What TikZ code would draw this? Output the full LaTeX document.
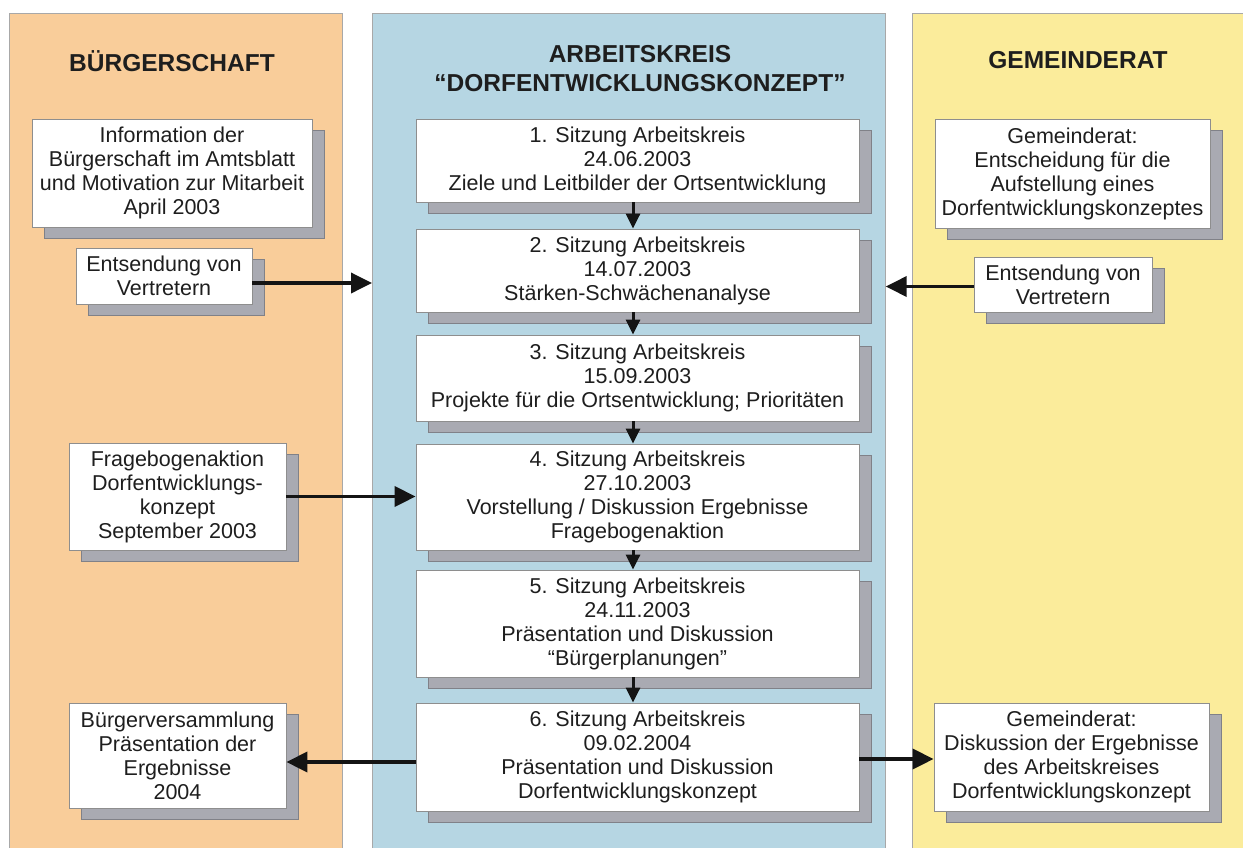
\documentclass[tikz,border=0pt]{standalone}
\usepackage{fontspec}
\setmainfont{Liberation Sans}
\usetikzlibrary{arrows.meta,shadows,calc}
\definecolor{orangep}{HTML}{F9CD9A}
\definecolor{bluep}{HTML}{B6D6E3}
\definecolor{yellowp}{HTML}{FBEC9B}
\definecolor{panelborder}{HTML}{A8A8A8}
\definecolor{boxborder}{HTML}{8E8E8E}
\definecolor{shadowgray}{HTML}{A9AAB2}
\definecolor{shadowborder}{HTML}{808188}
\definecolor{textcol}{HTML}{1E1E1E}
\begin{document}
\begin{tikzpicture}[x=1pt,y=-1pt,
  panel/.style={rectangle, draw=panelborder, line width=0.7pt, inner sep=0pt, anchor=north west},
  box/.style={rectangle, fill=white, draw=boxborder, line width=0.8pt, align=center, inner sep=1pt,
    font=\fontsize{21.5}{24}\selectfont, text=textcol,
    copy shadow={shadow xshift=12pt, shadow yshift=-11pt, fill=shadowgray, draw=shadowborder, opacity=1}},
  heading/.style={font=\bfseries\fontsize{24.5}{29}\selectfont, text=textcol, align=center, inner sep=0pt},
  harrow/.style={line width=3.6pt, draw=black!92, -{Triangle[length=21pt,width=20pt]}},
  varrow/.style={line width=3pt, draw=black!92, -{Triangle[length=15pt,width=14pt]}}
]
\useasboundingbox (0,0) rectangle (1243,847);
\fill[white] (0,0) rectangle (1243,847);
% panels
\node[panel, fill=orangep, minimum width=333pt, minimum height=837pt] (pL) at (9,13) {};
\node[panel, fill=bluep, minimum width=513pt, minimum height=837pt] (pM) at (372,13) {};
\node[panel, fill=yellowp, minimum width=335pt, minimum height=837pt] (pR) at (912,13) {};
% headings
\node[heading, anchor=base] (hL) at (172,71) {BÜRGERSCHAFT};
\node[heading, anchor=north] (hM) at (640,45) {ARBEITSKREIS\\``DORFENTWICKLUNGSKONZEPT''};
\node[heading, anchor=base] (hR) at (1078,68) {GEMEINDERAT};
% left column
\node[box, minimum width=280pt, minimum height=108pt] (info) at (172,173) {Information der\\Bürgerschaft im Amtsblatt\\und Motivation zur Mitarbeit\\April 2003};
\node[box, minimum width=176pt, minimum height=56pt] (entsL) at (164,276) {Entsendung von\\Vertretern};
\node[box, minimum width=217pt, minimum height=107pt] (frage) at (177.5,496.5) {Fragebogenaktion\\Dorfentwicklungs-\\konzept\\September 2003};
\node[box, minimum width=217pt, minimum height=105pt] (buerger) at (177.5,755.5) {Bürgerversammlung\\Präsentation der\\Ergebnisse\\2004};
% middle column
\node[box, minimum width=443pt, minimum height=83pt] (s1) at (637.5,160.5) {1. Sitzung Arbeitskreis\\24.06.2003\\Ziele und Leitbilder der Ortsentwicklung};
\node[box, minimum width=443pt, minimum height=83pt] (s2) at (637.5,270.5) {2. Sitzung Arbeitskreis\\14.07.2003\\Stärken-Schwächenanalyse};
\node[box, minimum width=443pt, minimum height=86pt] (s3) at (637.5,378) {3. Sitzung Arbeitskreis\\15.09.2003\\Projekte für die Ortsentwicklung; Prioritäten};
\node[box, minimum width=443pt, minimum height=106pt] (s4) at (637.5,497) {4. Sitzung Arbeitskreis\\27.10.2003\\Vorstellung / Diskussion Ergebnisse\\Fragebogenaktion};
\node[box, minimum width=443pt, minimum height=107pt] (s5) at (637.5,623.5) {5. Sitzung Arbeitskreis\\24.11.2003\\Präsentation und Diskussion\\``Bürgerplanungen''};
\node[box, minimum width=443pt, minimum height=108pt] (s6) at (637.5,757) {6. Sitzung Arbeitskreis\\09.02.2004\\Präsentation und Diskussion\\Dorfentwicklungskonzept};
% right column
\node[box, minimum width=275pt, minimum height=109pt] (gem1) at (1072.5,173.5) {Gemeinderat:\\Entscheidung für die\\Aufstellung eines\\Dorfentwicklungskonzeptes};
\node[box, minimum width=178pt, minimum height=55pt] (entsR) at (1063,284.5) {Entsendung von\\Vertretern};
\node[box, minimum width=275pt, minimum height=108pt] (gem2) at (1071.5,757) {Gemeinderat:\\Diskussion der Ergebnisse\\des Arbeitskreises\\Dorfentwicklungskonzept};
% connectors
\coordinate (ax) at (633,0);
\draw[varrow] (s1.south -| ax) -- (s2.north -| ax);
\draw[varrow] (s2.south -| ax) -- (s3.north -| ax);
\draw[varrow] (s3.south -| ax) -- (s4.north -| ax);
\draw[varrow] (s4.south -| ax) -- (s5.north -| ax);
\draw[varrow] (s5.south -| ax) -- (s6.north -| ax);
\coordinate (eL) at ($(entsL.east)+(0,7)$);
\draw[harrow] (eL) -- (eL -| pM.west);
\coordinate (eR) at ($(entsR.west)+(0,2)$);
\draw[harrow] (eR) -- (eR -| pM.east);
\draw[harrow] (frage.east) -- (frage.east -| s4.west);
\coordinate (bA) at ($(s6.west)+(0,5)$);
\draw[harrow] (bA) -- (bA -| buerger.east);
\coordinate (gA) at ($(s6.east)+(0,2)$);
\draw[harrow] (gA) -- (gA -| gem2.west);
\end{tikzpicture}
\end{document}
